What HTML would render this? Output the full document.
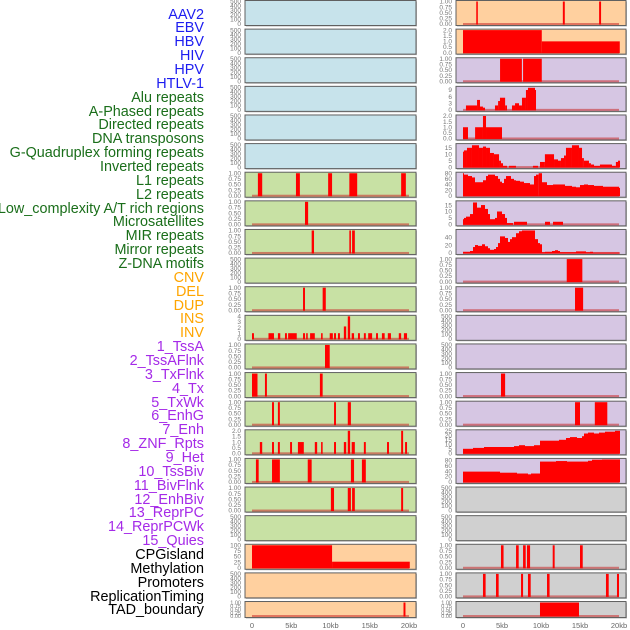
<!DOCTYPE html>
<html><head><meta charset="utf-8"><style>
html,body{margin:0;padding:0;background:#fff;width:630px;height:630px;overflow:hidden}
#labels{position:absolute;left:0;top:0;width:204px;height:630px}
.lb{position:absolute;right:0;font:14.4px "Liberation Sans",sans-serif;line-height:14px;white-space:nowrap;text-align:right}
svg{position:absolute;left:0;top:0}
</style></head><body>
<div id="labels"></div>
<svg id="chart" width="630" height="630"></svg>
<script>
const trackNames = ["AAV2","EBV","HBV","HIV","HPV","HTLV-1","Alu repeats","A-Phased repeats","Directed repeats","DNA transposons","G-Quadruplex forming repeats","Inverted repeats","L1 repeats","L2 repeats","Low_complexity A/T rich regions","Microsatellites","MIR repeats","Mirror repeats","Z-DNA motifs","CNV","DEL","DUP","INS","INV","1_TssA","2_TssAFlnk","3_TxFlnk","4_Tx","5_TxWk","6_EnhG","7_Enh","8_ZNF_Rpts","9_Het","10_TssBiv","11_BivFlnk","12_EnhBiv","13_ReprPC","14_ReprPCWk","15_Quies","CPGisland","Methylation","Promoters","ReplicationTiming","TAD_boundary"];
const trackGroups = ["virus","virus","virus","virus","virus","virus","repeat","repeat","repeat","repeat","repeat","repeat","repeat","repeat","repeat","repeat","repeat","repeat","repeat","sv","sv","sv","sv","sv","state","state","state","state","state","state","state","state","state","state","state","state","state","state","state","other","other","other","other","other"];
const xTicks = [0,5,10,15,20];
const xTickLabels = ["0","5kb","10kb","15kb","20kb"];
const segL6 = [[0.75,1.3,1],[5.6,6.1,1],[9.7,10.2,1],[12.4,13.4,1],[19,19.6,1]];
const segL7 = [[6.75,7.15,1]];
const segL8 = [[7.6,7.9,1],[12.4,12.6,1],[12.75,13.1,1]];
const segL10 = [[6.5,6.75,1],[9.0,9.4,1]];
const segL11 = [[0,0.25,1],[2.1,2.8,1],[3.3,3.6,1],[4.2,4.45,1],[4.6,5.7,1],[6.5,6.75,1],[6.9,7.1,1],[7.4,8.0,1],[8.8,9.0,1],[9.9,10.3,1],[10.45,10.7,1],[10.95,11.2,1],[11.7,12.0,2.2],[12.2,12.5,4],[12.7,13.0,1],[13.5,13.75,1],[14.25,14.5,1],[14.8,15.3,1],[15.8,16.05,1],[16.55,16.9,1],[17.3,17.7,1],[18.7,19.0,1],[19.35,19.75,1]];
const segL12 = [[9.3,9.9,1]];
const segL13 = [[0,0.7,1],[1.65,1.9,1],[8.65,9.0,1]];
const segL14 = [[2.55,2.8,1],[3.3,3.55,1],[10.45,10.7,1],[12.2,12.6,1]];
const segL15 = [[1.0,1.3,1],[2.55,2.8,1],[3.3,3.55,1],[4.85,5.1,1],[5.85,6.6,1],[8.0,8.3,1],[8.8,9.0,1],[10.45,10.7,1],[11.7,12.0,1],[12.2,12.5,2],[12.7,13.1,1],[14.25,14.5,1],[17.2,17.45,1],[19.0,19.25,2],[19.5,19.75,1]];
const segL16 = [[0.5,0.85,1],[2.55,3.55,1],[7.1,7.6,1],[12.6,13.0,1],[14.0,14.5,1]];
const segL17 = [[10.05,10.45,1],[12.2,12.6,1],[12.75,13.1,1],[19.0,19.25,1]];
const segL19 = [[0,10.2,100],[10.2,20.1,27]];
const segL21 = [[19.3,19.55,1]];
const segR0 = [[1.7,1.9,1],[12.8,13.05,1],[17.45,17.7,1]];
const segR1 = [[0,10.1,2],[10.1,20.1,1]];
const segR2 = [[4.75,7.55,1],[7.7,10.1,1]];
const segR3 = [[0.38,1.8,2],[1.8,2.18,4.5],[2.18,2.56,1.5],[2.56,2.82,1],[4.1,4.5,2],[4.5,4.74,4],[4.74,5.4,5.5],[5.4,5.64,2],[6.28,6.67,2],[6.67,7.18,3],[7.18,7.56,2],[7.56,8.07,5.5],[8.07,8.33,9],[8.33,9.23,10],[9.23,9.36,9]];
const segR4 = [[0,0.64,1],[1.55,2.56,1],[2.56,2.95,2],[2.95,5.0,1]];
const edgesR5 = [0,0.13,0.51,1.15,2.05,2.56,2.95,3.46,3.97,4.62,4.87,5.13,5.64,5.9,6.79,8.97,9.62,9.87,10.5,11.67,12.18,12.56,12.95,13.2,13.97,14.87,15.26,15.5,16.15,16.4,16.8,17.56,19.1,19.6,19.87,20.13];
const valsR5 = [12,13,15,17,15,16,15,11,10,5,3,1,0,1,0,1,0,4,10,6,5,7,9,15,17,15,7,5,3,2,1,2,1,4,5];
const zR6 = [126,132,144,156,165,189,198,204,225,234,240,246,252,258,273,282,288,300,312,330,342,348,356,366,381,399,411,435,456,468,480,492,504,522,549,597,600];
const valsR6 = [80,75,70,65,48,55,70,75,70,60,50,45,60,70,60,55,53,50,45,40,70,75,80,48,38,40,40,35,32,30,38,40,38,35,32,28];
const zR7 = [126,132,138,150,159,171,183,195,204,210,225,231,246,255,261,279,282,321,375,390,399,429];
const valsR7 = [4,5,6,8,17,13,15,12,8,4,5,10,8,5,1,0,2,0,2,0,2];
const zR8 = [126,150,159,165,174,186,195,204,210,222,228,234,240,255,264,270,276,288,297,306,345,354,360,366,375,396,405,414,420,468,498,510,519,600];
const valsR8 = [3,5,15,20,18,22,17,12,8,10,15,25,42,38,28,35,40,50,55,57,35,25,22,2,3,5,7,5,2,4,2,3,1];
const segR9 = [[13.3,15.3,1]];
const segR10 = [[14.36,15.4,1]];
const segR13 = [[4.87,5.4,1]];
const segR14 = [[14.36,15.0,1],[16.9,18.5,1]];
const zR15 = [126,159,192,282,297,315,342,360,417,438,450,471,486,492,504,522,537,555,585,600];
const valsR15 = [5,6,7,8,9,8,9,14,15,17,18,17,19,22,23,22,23,24,25];
const zR16 = [126,240,291,324,333,360,408,441,504,516,546,600];
const valsR16 = [38,34,31,28,31,75,77,75,78,82,83];
const segR19 = [[4.87,5.2,1],[6.8,7.14,1],[7.7,8.04,1],[8.2,8.6,1],[11.5,11.75,1],[15.0,15.35,1]];
const segR20 = [[2.56,2.9,1],[4.23,4.57,1],[7.44,7.7,1],[8.33,8.68,1],[10.77,11.1,1],[18.33,18.68,1],[19.74,20,1]];
const segR21 = [[9.87,14.87,1]];

const BIN=[0,0.25,0.5,0.75,1], BINL=["0.00","0.25","0.50","0.75","1.00"];
const EMP=[0,100,200,300,400,500], EMPL=["0","100","200","300","400","500"];
const groupColor={virus:"#1c1cf0",repeat:"#1a6e1a",sv:"#ffa500",state:"#a52ae8",other:"#000"};

function zToKb(z){return (z/3-43)/7.8;}
function hist(edges,vals){const s=[];for(let i=0;i<vals.length;i++){if(vals[i]>0)s.push([Math.max(0,edges[i]),edges[i+1],vals[i]]);}return s;}
function histZ(zs,vals){return hist(zs.map(zToKb),vals);}

function P(seg,ticks,tl,max,base){return {seg,ticks,tl,max,base};}
const E=()=>P([],EMP,EMPL,500,false);
const B=s=>P(s,BIN,BINL,1,true);
const left=[E(),E(),E(),E(),E(),E(),B(segL6),B(segL7),B(segL8),E(),B(segL10),
 P(segL11,[0,1,2,3,4],["0","1","2","3","4"],4,true),B(segL12),B(segL13),B(segL14),
 P(segL15,[0,0.5,1,1.5,2],["0.0","0.5","1.0","1.5","2.0"],2,true),B(segL16),B(segL17),E(),
 P(segL19,[0,25,50,75,100],["0","25","50","75","100"],100,false),E(),B(segL21)];
const right=[B(segR0),P(segR1,[0,0.5,1,1.5,2],["0.0","0.5","1.0","1.5","2.0"],2,false),B(segR2),
 P(segR3,[0,3,6,9],["0","3","6","9"],10.2,true),P(segR4,[0,0.5,1,1.5,2],["0.0","0.5","1.0","1.5","2.0"],2,true),
 P(hist(edgesR5,valsR5),[0,5,10,15],["0","5","10","15"],17.5,false),
 P(histZ(zR6,valsR6),[0,20,40,60,80],["0","20","40","60","80"],80,false),
 P(histZ(zR7,valsR7),[0,5,10,15],["0","5","10","15"],17.5,true),
 P(histZ(zR8,valsR8),[0,20,40],["0","20","40"],57,true),
 B(segR9),B(segR10),E(),E(),B(segR13),B(segR14),
 P(histZ(zR15,valsR15),[0,5,10,15,20,25],["0","5","10","15","20","25"],25,false),
 P(histZ(zR16,valsR16),[0,20,40,60,80],["0","20","40","60","80"],83,false),
 E(),E(),B(segR19),B(segR20),B(segR21)];
function bgFor(col,r){if(col===0){if(r<6)return "#c7e3eb";if(r<19)return "#c8e1a4";return "#ffd09f";}
 if(r<2)return "#ffd09f";if(r<17)return "#d6c6e3";return "#d0d0d0";}

const NS="http://www.w3.org/2000/svg";
const svg=document.getElementById('chart');
function el(t,a,p){const e=document.createElementNS(NS,t);for(const k in a)e.setAttribute(k,a[k]);(p||svg).appendChild(e);return e;}

const lab=document.getElementById('labels');
trackNames.forEach((n,i)=>{const d=document.createElement('div');d.className='lb';
 
 
 d.style.top=(15+i*13.86-7.5)+'px';d.style.color=groupColor[trackGroups[i]];d.textContent=n;lab.appendChild(d);});

const cols=[{x0:245,x1:416,zero:252,k:7.85},{x0:456,x1:626,zero:463,k:7.8}];
function drawPanel(col,r,p){
 const c=cols[col];const top=0.5+r*28.62;const h=(r===21)?16:25;
 const g=el('g',{});
 
 
 el('rect',{x:c.x0+1,y:top+1,width:c.x1-c.x0,height:h,fill:'#bbb'},g);
 el('rect',{x:c.x0,y:top,width:c.x1-c.x0,height:h,fill:bgFor(col,r),stroke:'#606060','stroke-width':1},g);
 const yb=top+h-1.5, yt=top+1;
 const ys=v=>yb-(v/p.max)*(yb-yt);
 const xs=kb=>c.zero+kb*c.k;
 p.ticks.forEach((t,i)=>{const tx=el('text',{x:c.x0-4,y:ys(t)+2.2,'text-anchor':'end','font-size':(h<20?5.5:6.5),fill:'#777','font-family':'Liberation Sans, sans-serif'},g);tx.textContent=p.tl[i];});
 if(p.seg.length||p.base){
  el('rect',{x:xs(0),y:yb-1,width:xs(20)-xs(0),height:2,fill:'rgba(200,40,40,0.55)'},g);
 }
 p.seg.forEach(s=>{const b=el('rect',{x:xs(s[0]),y:ys(s[2]),width:Math.max(1,xs(s[1])-xs(s[0])),height:yb-ys(s[2])+0.5,fill:'#ff0000'},g);
  
  });
}
left.forEach((p,r)=>drawPanel(0,r,p));
right.forEach((p,r)=>drawPanel(1,r,p));
cols.forEach((c,ci)=>{xTicks.forEach((t,i)=>{const tx=el('text',{x:c.zero+t*c.k,y:628,'text-anchor':'middle','font-size':7.5,fill:'#666','font-family':'Liberation Sans, sans-serif'});
 
 
 tx.textContent=xTickLabels[i];});});
</script>
</body></html>
